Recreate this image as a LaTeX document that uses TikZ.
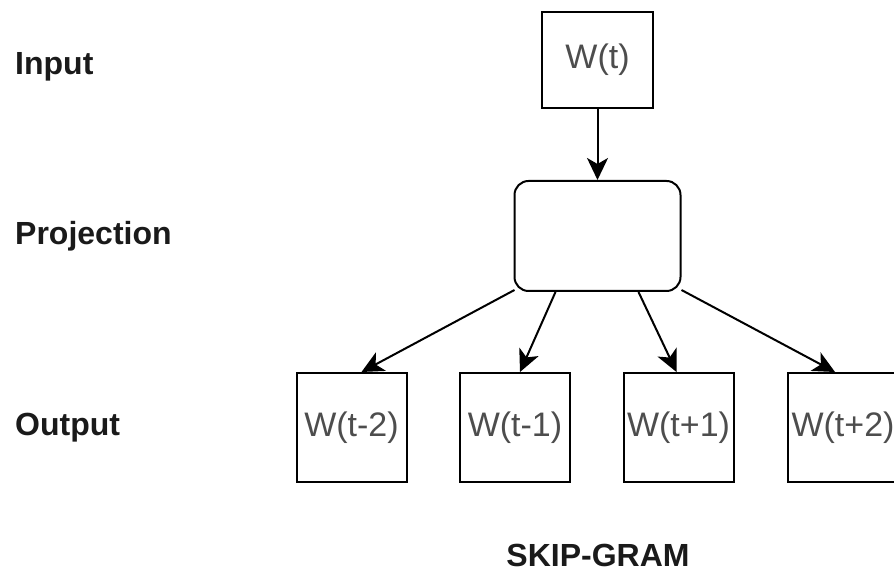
\documentclass[tikz,border=0pt]{standalone}
\usepackage{fontspec}
\setmainfont{Liberation Sans}
\usepackage{tikz}
\usetikzlibrary{arrows.meta}

\definecolor{boxtext}{HTML}{4D4D4D}
\definecolor{labtext}{HTML}{1A1A1A}

\tikzset{
  word/.style={draw, line width=2pt, minimum width=110pt, minimum height=109pt,
    inner sep=0pt, text=boxtext, font=\fontsize{34}{40}\selectfont},
  layer/.style={anchor=base west, text=labtext, inner sep=0pt,
    font=\bfseries\fontsize{32}{38}\selectfont},
  link/.style={line width=2pt, -{Stealth[length=22pt,width=21pt,inset=6pt]}}
}

\begin{document}
\begin{tikzpicture}[x=1pt,y=1pt]
\useasboundingbox (0,0) rectangle (894,577);
\node[word, minimum width=111pt, minimum height=96pt] (wt) at (597.5,517) {W(t)};
\node[draw, line width=2pt, rounded corners=14pt, minimum width=166pt,
  minimum height=110pt] (proj) at (597.5,341) {};
\node[word] (wm2) at (351.5,149.5) {W(t-2)};
\node[word] (wm1) at (515,149.5) {W(t-1)};
\node[word] (wp1) at (678.5,149.5) {W(t+1)};
\node[word] (wp2) at (843,149.5) {W(t+2)};
\node[layer] (lin) at (15,502) {Input};
\node[layer] (lproj) at (15,332) {Projection};
\node[layer] (lout) at (15,141) {Output};
\node[text=labtext, inner sep=0pt, font=\bfseries\fontsize{32}{38}\selectfont,
  anchor=base] (title) at (598,10) {SKIP-GRAM};
\draw[link] (wt) -- (proj);
\draw[link] ([xshift=1pt,yshift=2pt]proj.south west) -- ([xshift=10pt]wm2.north);
\draw[link] ([xshift=-42pt]proj.south) -- ([xshift=5pt]wm1.north);
\draw[link] ([xshift=41pt]proj.south) -- ([xshift=-2pt]wp1.north);
\draw[link] ([yshift=2pt]proj.south east) -- ([xshift=-8pt]wp2.north);
\end{tikzpicture}
\end{document}
